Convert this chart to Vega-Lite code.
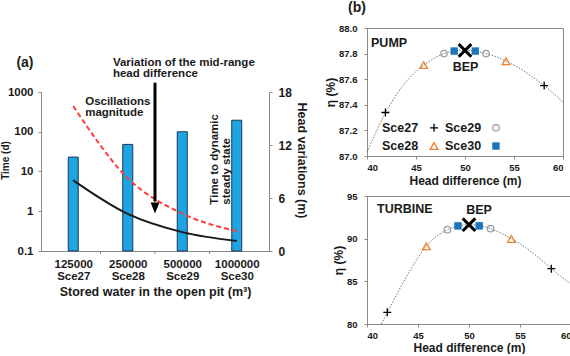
{
  "$schema": "https://vega.github.io/schema/vega-lite/v6.json",
  "padding": 0,
  "background": "white",
  "config": {
    "view": {"stroke": null},
    "font": "Liberation Sans",
    "axis": {"domainColor": "#8a8a8a", "tickColor": "#8a8a8a", "labelColor": "#1a1a1a", "titleColor": "#1a1a1a", "labelFontWeight": "bold", "titleFontWeight": "bold", "grid": false, "tickSize": 3, "labelFont": "Liberation Sans", "titleFont": "Liberation Sans"},
    "text": {"font": "Liberation Sans", "fontWeight": "bold", "color": "#1a1a1a"}
  },
  "spacing": 16,
  "hconcat": [
    {
      "spacing": 0,
      "vconcat": [
        {
          "width": 228,
          "height": 28,
          "view": {"fill": "white", "stroke": null},
          "data": {"values": []},
          "mark": "point"
        },
        {
          "width": 228,
          "height": 159,
          "encoding": {
            "x": {"field": "pos", "type": "quantitative", "scale": {"domain": [0.5, 4.5]},
              "axis": {"values": [1, 2, 3, 4], "ticks": false, "labelFontSize": 11.5, "labelPadding": 7, "labelLineHeight": 12.5,
                "labelExpr": "datum.value == 1 ? ['125000','Sce27'] : datum.value == 2 ? ['250000','Sce28'] : datum.value == 3 ? ['500000','Sce29'] : ['1000000','Sce30']",
                "title": "Stored water in the open pit (m³)", "titleFontSize": 12.5, "titlePadding": 3}}
          },
          "layer": [
            {
              "data": {"values": [{"pos": 1, "time": 23}, {"pos": 2, "time": 48}, {"pos": 3, "time": 100}, {"pos": 4, "time": 195}]},
              "mark": {"type": "bar", "size": 10, "fill": "#1CA5E0", "stroke": "#1d3557", "strokeWidth": 1},
              "encoding": {
                "y": {"field": "time", "type": "quantitative", "scale": {"type": "log", "domain": [0.1, 1000]},
                  "axis": {"orient": "left", "values": [0.1, 1, 10, 100, 1000], "format": "~g", "labelFontSize": 11.5, "labelPadding": 5, "title": "Time (d)", "titleFontSize": 10, "titlePadding": -3, "titleY": 68}},
                "y2": {"datum": 0.1}
              }
            },
            {
              "layer": [
                {
                  "data": {"values": [{"pos": 1, "head": 16.4}, {"pos": 2, "head": 8.25}, {"pos": 3, "head": 4.24}, {"pos": 4, "head": 2.25}]},
                  "mark": {"type": "line", "color": "#FF3B3B", "strokeWidth": 2, "strokeDash": [5, 3], "interpolate": "monotone"},
                  "encoding": {"y": {"field": "head", "type": "quantitative", "scale": {"domain": [0, 18]},
                    "axis": {"orient": "right", "values": [0, 3, 6, 9, 12, 15, 18], "labelFontSize": 12, "labelPadding": 6, "title": "Head variations (m)", "titleFontSize": 12.5, "titlePadding": 3, "titleY": 68}}}
                },
                {
                  "data": {"values": [{"pos": 1, "head": 8.0}, {"pos": 2, "head": 4.2}, {"pos": 3, "head": 2.14}, {"pos": 4, "head": 1.13}]},
                  "mark": {"type": "line", "color": "#1a1a1a", "strokeWidth": 2, "interpolate": "monotone"},
                  "encoding": {"y": {"field": "head", "type": "quantitative", "scale": {"domain": [0, 18]}}}
                },
                {
                  "data": {"values": [{"pos": 1.5, "head": 0}, {"pos": 2.5, "head": 0}, {"pos": 3.5, "head": 0}]},
                  "mark": {"type": "tick", "orient": "vertical", "size": 3, "thickness": 1, "color": "#8a8a8a", "yOffset": 1.5, "opacity": 1},
                  "encoding": {"y": {"field": "head", "type": "quantitative", "scale": {"domain": [0, 18]}}}
                },
                {
                  "data": {"values": [{"pos": 2.5, "head": 19.06, "head2": 5.6}]},
                  "mark": {"type": "rule", "color": "#000", "strokeWidth": 3},
                  "encoding": {"y": {"field": "head", "type": "quantitative", "scale": {"domain": [0, 18]}}, "y2": {"field": "head2"}}
                },
                {
                  "data": {"values": [{"pos": 2.5, "head": 4.87}]},
                  "mark": {"type": "point", "shape": "M-0.8,-1L0.8,-1L0,1Z", "size": 121, "filled": true, "color": "#000", "opacity": 1},
                  "encoding": {"y": {"field": "head", "type": "quantitative", "scale": {"domain": [0, 18]}}}
                },
                {
                  "data": {"values": [
                    {"pos": 1.728, "head": 21.26, "txt": "Variation of the mid-range"},
                    {"pos": 1.728, "head": 19.99, "txt": "head difference"},
                    {"pos": 1.219, "head": 16.84, "txt": "Oscillations"},
                    {"pos": 1.219, "head": 15.6, "txt": "magnitude"}
                  ]},
                  "mark": {"type": "text", "align": "left", "baseline": "middle", "fontSize": 11.5},
                  "encoding": {"y": {"field": "head", "type": "quantitative", "scale": {"domain": [0, 18]}}, "text": {"field": "txt"}}
                },
                {
                  "data": {"values": [
                    {"pos": 3.605, "head": 5.25, "txt": "Time to dynamic"},
                    {"pos": 3.816, "head": 5.25, "txt": "steady state"}
                  ]},
                  "mark": {"type": "text", "align": "left", "baseline": "middle", "angle": 270, "fontSize": 11.5},
                  "encoding": {"y": {"field": "head", "type": "quantitative", "scale": {"domain": [0, 18]}}, "text": {"field": "txt"}}
                },
                {
                  "data": {"values": [{"pos": 0.114, "head": 21.26, "txt": "(a)"}]},
                  "mark": {"type": "text", "align": "center", "baseline": "middle", "fontSize": 14},
                  "encoding": {"y": {"field": "head", "type": "quantitative", "scale": {"domain": [0, 18]}}, "text": {"field": "txt"}}
                }
              ]
            }
          ],
          "resolve": {"scale": {"y": "independent"}}
        }
      ]
    },
    {
      "spacing": 3,
      "vconcat": [
        {
          "width": 196,
          "height": 128,
          "view": {"stroke": "#8a8a8a", "strokeWidth": 1},
          "encoding": {
            "x": {"field": "h", "type": "quantitative", "scale": {"domain": [40, 60]},
              "axis": {"values": [40, 45, 50, 55, 60], "labelFontSize": 9.5, "labelPadding": 3, "title": "Head difference (m)", "titleFontSize": 12, "titlePadding": 4}},
            "y": {"field": "e", "type": "quantitative", "scale": {"domain": [87, 88]},
              "axis": {"values": [87, 87.2, 87.4, 87.6, 87.8, 88], "format": ".1f", "labelFontSize": 9.5, "labelPadding": 7, "title": "η (%)", "titleFontSize": 12, "titlePadding": 1}}
          },
          "layer": [
            {
              "data": {"values": [
                {"h": 40, "e": 87.03}, {"h": 41, "e": 87.2}, {"h": 41.9, "e": 87.34}, {"h": 43, "e": 87.48}, {"h": 44, "e": 87.58},
                {"h": 45, "e": 87.66}, {"h": 45.8, "e": 87.71}, {"h": 47, "e": 87.77}, {"h": 47.9, "e": 87.8}, {"h": 49, "e": 87.82},
                {"h": 50, "e": 87.825}, {"h": 51, "e": 87.82}, {"h": 52.1, "e": 87.8}, {"h": 53, "e": 87.78}, {"h": 54.2, "e": 87.74},
                {"h": 55, "e": 87.71}, {"h": 56, "e": 87.665}, {"h": 57, "e": 87.61}, {"h": 58.1, "e": 87.55}, {"h": 59, "e": 87.49}, {"h": 60, "e": 87.42}
              ]},
              "mark": {"type": "line", "color": "#666", "strokeWidth": 0.9, "strokeDash": [1.5, 1.5], "interpolate": "monotone"}
            },
            {
              "data": {"values": [{"h": 41.88, "e": 87.34}, {"h": 58.08, "e": 87.55}, {"h": 46.84, "e": 87.22}]},
              "mark": {"type": "point", "shape": "M-1,0L1,0M0,-1L0,1", "size": 64, "filled": false, "stroke": "#000", "strokeWidth": 1.3, "opacity": 1}
            },
            {
              "data": {"values": [{"h": 45.78, "e": 87.71}, {"h": 54.19, "e": 87.74}, {"h": 46.84, "e": 87.078}]},
              "mark": {"type": "point", "shape": "triangle-up", "size": 60, "filled": false, "stroke": "#E8822F", "strokeWidth": 1.3, "opacity": 1}
            },
            {
              "data": {"values": [{"h": 47.86, "e": 87.8}, {"h": 52.14, "e": 87.8}, {"h": 53.16, "e": 87.22}]},
              "mark": {"type": "point", "shape": "circle", "size": 42, "filled": false, "stroke": "#9a9a9a", "strokeWidth": 1.2, "opacity": 1}
            },
            {
              "data": {"values": [{"h": 48.9, "e": 87.82}, {"h": 51.05, "e": 87.82}, {"h": 53.16, "e": 87.078}]},
              "mark": {"type": "point", "shape": "square", "size": 55, "filled": true, "color": "#1B75BC", "opacity": 1}
            },
            {
              "data": {"values": [{"h": 50, "e": 87.825}]},
              "mark": {"type": "point", "shape": "M-1,-1L1,1M1,-1L-1,1", "size": 160, "filled": false, "stroke": "#000", "strokeWidth": 3, "opacity": 1}
            },
            {
              "data": {"values": [
                {"h": 40.41, "e": 87.883, "txt": "PUMP"},
                {"h": 41.53, "e": 87.22, "txt": "Sce27"},
                {"h": 41.53, "e": 87.078, "txt": "Sce28"},
                {"h": 47.96, "e": 87.22, "txt": "Sce29"},
                {"h": 47.96, "e": 87.078, "txt": "Sce30"}
              ]},
              "mark": {"type": "text", "align": "left", "baseline": "middle", "fontSize": 12.5},
              "encoding": {"text": {"field": "txt"}}
            },
            {
              "data": {"values": [{"h": 50.05, "e": 87.695, "txt": "BEP"}]},
              "mark": {"type": "text", "align": "center", "baseline": "middle", "fontSize": 12.5},
              "encoding": {"text": {"field": "txt"}}
            },
            {
              "data": {"values": [{"h": 38.98, "e": 88.21, "txt": "(b)"}]},
              "mark": {"type": "text", "align": "center", "baseline": "top", "fontSize": 14},
              "encoding": {"text": {"field": "txt"}}
            }
          ]
        },
        {
          "width": 204,
          "height": 128,
          "view": {"stroke": "#8a8a8a", "strokeWidth": 1},
          "encoding": {
            "x": {"field": "h", "type": "quantitative", "scale": {"domain": [40, 60]},
              "axis": {"values": [40, 45, 50, 55, 60], "labelFontSize": 9.5, "labelPadding": 3, "title": "Head difference (m)", "titleFontSize": 12, "titlePadding": 3}},
            "y": {"field": "e", "type": "quantitative", "scale": {"domain": [80, 95]},
              "axis": {"values": [80, 85, 90, 95], "labelFontSize": 9.5, "labelPadding": 7, "title": "η (%)", "titleFontSize": 12, "titlePadding": 1}}
          },
          "layer": [
            {
              "data": {"values": [
                {"h": 41.4, "e": 80.0}, {"h": 42, "e": 81.37}, {"h": 43, "e": 83.67}, {"h": 44, "e": 85.82}, {"h": 45, "e": 87.77},
                {"h": 45.8, "e": 89.1}, {"h": 47, "e": 90.45}, {"h": 47.9, "e": 91.05}, {"h": 49, "e": 91.5}, {"h": 50, "e": 91.64},
                {"h": 51, "e": 91.55}, {"h": 52.1, "e": 91.17}, {"h": 53, "e": 90.72}, {"h": 54.2, "e": 89.96}, {"h": 55, "e": 89.4},
                {"h": 56, "e": 88.55}, {"h": 57, "e": 87.6}, {"h": 58.1, "e": 86.48}, {"h": 59, "e": 85.58}, {"h": 60, "e": 84.69}
              ]},
              "mark": {"type": "line", "color": "#666", "strokeWidth": 0.9, "strokeDash": [1.5, 1.5], "interpolate": "monotone"}
            },
            {
              "data": {"values": [{"h": 41.99, "e": 81.37}, {"h": 58.07, "e": 86.48}]},
              "mark": {"type": "point", "shape": "M-1,0L1,0M0,-1L0,1", "size": 64, "filled": false, "stroke": "#000", "strokeWidth": 1.3, "opacity": 1}
            },
            {
              "data": {"values": [{"h": 45.82, "e": 89.1}, {"h": 54.15, "e": 89.96}]},
              "mark": {"type": "point", "shape": "triangle-up", "size": 60, "filled": false, "stroke": "#E8822F", "strokeWidth": 1.3, "opacity": 1}
            },
            {
              "data": {"values": [{"h": 47.88, "e": 91.05}, {"h": 52.12, "e": 91.17}]},
              "mark": {"type": "point", "shape": "circle", "size": 42, "filled": false, "stroke": "#9a9a9a", "strokeWidth": 1.2, "opacity": 1}
            },
            {
              "data": {"values": [{"h": 48.92, "e": 91.5}, {"h": 51.0, "e": 91.5}]},
              "mark": {"type": "point", "shape": "square", "size": 55, "filled": true, "color": "#1B75BC", "opacity": 1}
            },
            {
              "data": {"values": [{"h": 50, "e": 91.64}]},
              "mark": {"type": "point", "shape": "M-1,-1L1,1M1,-1L-1,1", "size": 160, "filled": false, "stroke": "#000", "strokeWidth": 3, "opacity": 1}
            },
            {
              "data": {"values": [{"h": 40.98, "e": 93.48, "txt": "TURBINE"}]},
              "mark": {"type": "text", "align": "left", "baseline": "middle", "fontSize": 12.5},
              "encoding": {"text": {"field": "txt"}}
            },
            {
              "data": {"values": [{"h": 50.98, "e": 93.36, "txt": "BEP"}]},
              "mark": {"type": "text", "align": "center", "baseline": "middle", "fontSize": 12.5},
              "encoding": {"text": {"field": "txt"}}
            }
          ]
        }
      ]
    }
  ]
}
